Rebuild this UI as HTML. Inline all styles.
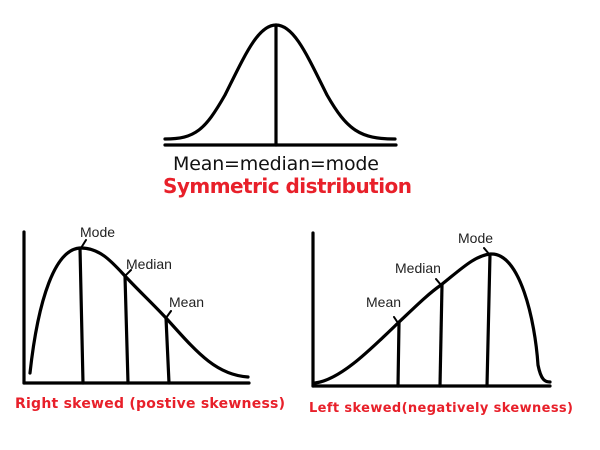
<!DOCTYPE html>
<html><head><style>body{margin:0;background:#fff}svg{display:block}</style></head>
<body>
<svg width="600" height="450" xmlns="http://www.w3.org/2000/svg" font-family="'DejaVu Sans','Liberation Sans',sans-serif">
<g fill="none" stroke="#000" stroke-width="3.2" stroke-linecap="round">
<line x1="165" y1="145" x2="396" y2="145"/>
<path d="M165,139 C195,139 205,130 225,95 C245,55 258,25 276,25 C294,25 307,55 327,95 C347,130 360,139 395,139"/>
<line x1="276" y1="25" x2="276" y2="145"/>
<line x1="24" y1="232" x2="24" y2="383"/>
<line x1="24" y1="383" x2="249" y2="383"/>
<path d="M30,373 C38,300 55,248 81,248 C100,248 112,262 125,276 C140,292 152,303 166,318 C195,350 215,375 248,377"/>
<line x1="80" y1="248" x2="83" y2="383"/>
<line x1="125" y1="276" x2="128" y2="383"/>
<line x1="166" y1="318" x2="169" y2="383"/>
<path d="M81,248 L86,240 M125,276 L131,270 M166,318 L171,311" stroke-width="2"/>
<line x1="313" y1="233" x2="313" y2="386"/>
<line x1="313" y1="386" x2="550" y2="386"/>
<path d="M315,383 C340,380 370,350 398,323 C415,307 428,294 441,285 C460,270 475,255 491,254 C520,253 535,320 538,365 C541,380 545,382 550,382"/>
<line x1="399" y1="323" x2="398" y2="386"/>
<line x1="442" y1="285" x2="440" y2="386"/>
<line x1="490" y1="254" x2="487" y2="386"/>
<path d="M398,323 L394,317 M441,285 L436,279 M489,254 L484,248" stroke-width="2"/>
</g>
<g fill="#222" font-size="14" font-family="'Liberation Sans',sans-serif">
<text x="80" y="237">Mode</text>
<text x="126" y="269">Median</text>
<text x="169" y="307">Mean</text>
<text x="458" y="243">Mode</text>
<text x="395" y="273">Median</text>
<text x="366" y="307">Mean</text>
</g>
<text x="173" y="170" font-size="19" fill="#111" textLength="206">Mean=median=mode</text>
<g fill="#e8202a" font-weight="bold">
<text x="163" y="193" font-size="20" textLength="249">Symmetric distribution</text>
<text x="15" y="408" font-size="14" textLength="270">Right skewed (postive skewness)</text>
<text x="309" y="412" font-size="13" textLength="264">Left skewed(negatively skewness)</text>
</g>
</svg>
</body></html>
